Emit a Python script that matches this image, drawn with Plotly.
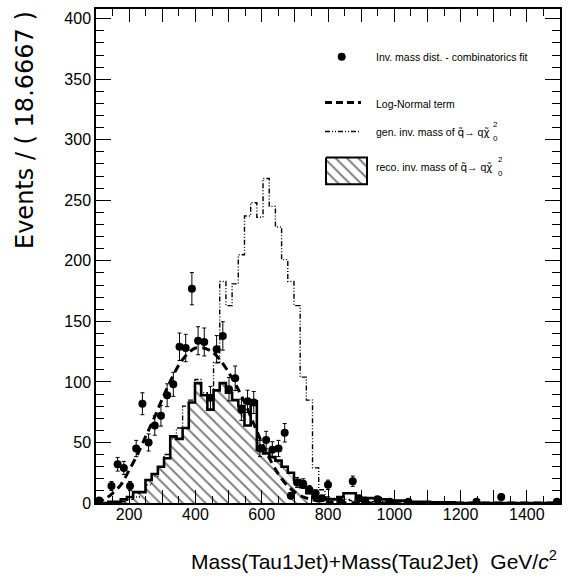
import numpy as np
import plotly.graph_objects as go

# ---- histogram binning ---------------------------------------------------
X_MIN, X_MAX, N_BINS = 100.0, 1500.0, 75

# observed events per bin (points with Poisson errors)
data_counts = [
    2, 0, 14, 32, 29, 14, 45, 82, 50, 64,
    72, 89, 98, 129, 128, 177, 134, 133, 87, 127,
    138, 94, 103, 77, 84, 83, 45, 52, 44, 45,
    58, 6, 17, 16, 11, 8, 4, 15, 0, 1,
    0, 18, 4, 2, 0, 3, 0, 1, 0, 0,
    1, 0, 0, 0, 0, 0, 0, 0, 0, 0,
    0, 1, 0, 0, 0, 5, 0, 0, 0, 0,
    0, 0, 0, 0, 1,
]

# reconstructed invariant mass (hatched histogram)
reco_counts = [
    0, 0, 1, 1, 3, 5, 9, 9, 19, 24,
    30, 37, 55, 53, 62, 83, 99, 89, 77, 93,
    99, 91, 85, 80, 64, 84, 44, 41, 38, 35,
    30, 25, 19, 13, 8, 4, 4, 3, 3, 5,
    8, 8, 3, 4, 4, 4, 3, 2, 2, 2,
    1, 1, 1, 1, 0.5, 0.5, 0.5, 0.5, 0, 0,
    0, 0, 0, 0, 0, 0, 0, 0, 0, 0,
    0, 0, 0, 0, 0,
]

# generated invariant mass (dash-dotted histogram)
gen_counts = [
    0, 0, 0, 1, 1, 3, 5, 9, 15, 22,
    30, 40, 53, 62, 80, 85, 102, 91, 86, 116,
    183, 163, 181, 205, 237, 248, 236, 268, 245, 228,
    201, 183, 163, 104, 85, 29, 11, 5, 4, 3,
    3, 2, 2, 1, 1, 1, 1, 0, 0, 0,
    0, 0, 0, 0, 0, 0, 0, 0, 0, 0,
    0, 0, 0, 0, 0, 0, 0, 0, 0, 0,
    0, 0, 0, 0, 0,
]

# fitted log-normal term
lognormal_mass = [100, 125, 150, 175, 200, 225, 250, 275, 300, 325, 350, 375,
                  400, 425, 450, 475, 500, 525, 550, 575, 600, 625, 650, 675,
                  700, 725, 750, 775, 800, 850, 900, 1000, 1200, 1500]
lognormal_events = [0.5, 3, 8, 15, 27, 40, 55, 70, 86, 101, 114, 123,
                    128, 128, 125, 118, 108, 96, 82, 66, 50, 36, 24, 15,
                    9, 5, 3, 1.5, 0.8, 0.3, 0.1, 0, 0, 0]

x_tick_values = [200, 400, 600, 800, 1000, 1200, 1400]
x_tick_labels = ["200", "400", "600", "800", "1000", "1200", "1400"]
y_tick_values = [0, 50, 100, 150, 200, 250, 300, 350, 400]
y_tick_labels = ["0", "50", "100", "150", "200", "250", "300", "350", "400"]

GREEK = "<span style='font-family:DejaVu Sans'>{}</span>"
legend_labels = [
    "Inv. mass dist. - combinatorics fit",
    "Log-Normal term",
    "gen. inv. mass of " + GREEK.format("q\u0303") + "\u2192 q" + GREEK.format("\u03c7\u0303"),
    "reco. inv. mass of " + GREEK.format("q\u0303") + "\u2192 q" + GREEK.format("\u03c7\u0303"),
]

# the hatched area follows the reco steps up to this bin, then closes
# diagonally onto the baseline at the lower edge of HATCH_CLOSE_BIN
HATCH_LAST_BIN = 24
HATCH_CLOSE_BIN = 35

# ---- page geometry (pixels) ----------------------------------------------
W, H = 569, 584
L, R, T, B = 96, 560, 7, 503
Y_TOP = 408

SANS = "Liberation Sans, Arial, Helvetica, sans-serif"


def pxx(x):
    return (x - L) / (R - L)


def pxy(y):
    return (B - y) / (B - T)


bw = (X_MAX - X_MIN) / N_BINS
edges = X_MIN + bw * np.arange(N_BINS + 1)
centers = edges[:-1] + bw / 2

data = np.array(data_counts, dtype=float)
reco = np.array(reco_counts, dtype=float)
gen = np.array(gen_counts, dtype=float)

fig = go.Figure()

# hatched reco area
hx, hy = [edges[0]], [0.0]
for k in range(HATCH_LAST_BIN + 1):
    hx += [edges[k], edges[k + 1]]
    hy += [reco[k], reco[k]]
hx += [edges[HATCH_CLOSE_BIN], edges[0]]
hy += [0.0, 0.0]
hatch = dict(shape="\\", size=8, solidity=0.25, fgcolor="black", bgcolor="white")
fig.add_trace(go.Scatter(x=hx, y=hy, mode="lines", line=dict(width=0),
                         fill="toself", fillpattern=hatch, hoverinfo="skip"))

# generated mass histogram
fig.add_trace(go.Scatter(x=edges, y=np.append(gen, gen[-1]), mode="lines",
                         line=dict(color="black", width=1.4, shape="hv",
                                   dash="5px,2px,1px,2px,1px,2px")))

# reco mass histogram outline
fig.add_trace(go.Scatter(x=edges, y=np.append(reco, reco[-1]), mode="lines",
                         line=dict(color="black", width=2.6, shape="hv")))

# log-normal term
fig.add_trace(go.Scatter(x=lognormal_mass, y=lognormal_events, mode="lines",
                         line=dict(color="black", width=3, dash="8px,5px",
                                   shape="spline", smoothing=0.8)))

# data points with Poisson errors
nz = data > 0
fig.add_trace(go.Scatter(
    x=centers[nz], y=data[nz], mode="markers",
    marker=dict(color="black", size=8, symbol="circle"),
    error_y=dict(type="data", array=np.sqrt(data[nz]), color="black",
                 thickness=1, width=2),
))

# ---- legend, drawn on a pixel-unit overlay ---------------------------------
def px(**kw):
    return dict(xaxis="x2", yaxis="y2", showlegend=False, hoverinfo="skip", **kw)

fig.add_trace(go.Scatter(x=[341.7], y=[55], mode="markers",
                         marker=dict(color="black", size=8), **px()))
fig.add_trace(go.Scatter(x=[325, 361], y=[101, 101], mode="lines",
                         line=dict(color="black", width=3, dash="7px,4px"), **px()))
fig.add_trace(go.Scatter(x=[325, 361], y=[130, 130], mode="lines",
                         line=dict(color="black", width=1.5,
                                   dash="5px,2px,1px,2px,1px,2px"), **px()))
fig.add_trace(go.Scatter(x=[326, 367, 367, 326, 326], y=[156, 156, 183, 183, 156],
                         mode="lines", line=dict(color="black", width=2),
                         fill="toself", fillpattern=hatch, **px()))

ann = []
legend_font = dict(family=SANS, size=10.5, color="black")
for text, yc in zip(legend_labels, [55, 102, 130, 166]):
    ann.append(dict(x=pxx(374), y=pxy(yc), xref="paper", yref="paper",
                    text=text, showarrow=False, xanchor="left", yanchor="middle",
                    font=legend_font))
# stacked super/subscripts of the neutralino symbol
for xs, yc in ((491, 123), (496, 158)):
    ann.append(dict(x=pxx(xs), y=pxy(yc), xref="paper", yref="paper", text="2",
                    showarrow=False, xanchor="left", yanchor="middle",
                    font=dict(family=SANS, size=8, color="black")))
for xs, yc in ((491, 137), (496, 172)):
    ann.append(dict(x=pxx(xs), y=pxy(yc), xref="paper", yref="paper", text="0",
                    showarrow=False, xanchor="left", yanchor="middle",
                    font=dict(family=SANS, size=8, color="black")))

# axis titles
ann.append(dict(x=pxx(559), y=pxy(560), xref="paper", yref="paper",
                text="Mass(Tau1Jet)+Mass(Tau2Jet)\u00a0\u00a0GeV/<i>c</i><sup>2</sup>",
                showarrow=False, xanchor="right", yanchor="middle",
                font=dict(family=SANS, size=21, color="black")))
ann.append(dict(x=pxx(25), y=pxy(7), xref="paper", yref="paper",
                text="Events / ( 18.6667 )",
                textangle=-90, showarrow=False, xanchor="center", yanchor="top",
                font=dict(family="DejaVu Sans", size=24, color="black")))

tick_font = dict(family=SANS, size=16, color="black")

fig.update_layout(
    width=W, height=H,
    margin=dict(l=L, r=W - R, t=T, b=H - B),
    paper_bgcolor="white", plot_bgcolor="white",
    showlegend=False,
    annotations=ann,
    # frame and tick marks of the mass axis (every 100, minor every 50)
    xaxis=dict(range=[X_MIN, X_MAX], tickmode="linear", tick0=100, dtick=100,
               ticklen=13, showticklabels=False,
               minor=dict(tickmode="linear", tick0=100, dtick=50, ticklen=7,
                          ticks="inside", tickcolor="black"),
               showline=True, linecolor="black", linewidth=1.5, mirror="ticks",
               ticks="inside", tickcolor="black", tickwidth=1,
               showgrid=False, zeroline=False),
    # labels of the mass axis
    xaxis3=dict(overlaying="x", range=[X_MIN, X_MAX], tickmode="array",
                tickvals=x_tick_values, ticktext=x_tick_labels, ticks="",
                showline=False, showgrid=False, zeroline=False,
                tickfont=tick_font, fixedrange=True),
    yaxis=dict(range=[0, Y_TOP], tickmode="array", tickvals=y_tick_values,
               ticktext=y_tick_labels, ticklen=15,
               minor=dict(tickmode="linear", tick0=0, dtick=10, ticklen=8,
                          ticks="inside", tickcolor="black"),
               showline=True, linecolor="black", linewidth=1.5, mirror="ticks",
               ticks="inside", tickcolor="black", tickwidth=1,
               showgrid=False, zeroline=False, tickfont=tick_font),
    xaxis2=dict(overlaying="x", range=[L, R], visible=False, fixedrange=True),
    yaxis2=dict(overlaying="y", range=[B, T], visible=False, fixedrange=True),
)

# an empty trace keeps the label axis on the page
fig.add_trace(go.Scatter(x=[], y=[], xaxis="x3", yaxis="y", showlegend=False,
                         hoverinfo="skip"))

fig.write_html("out.html")
